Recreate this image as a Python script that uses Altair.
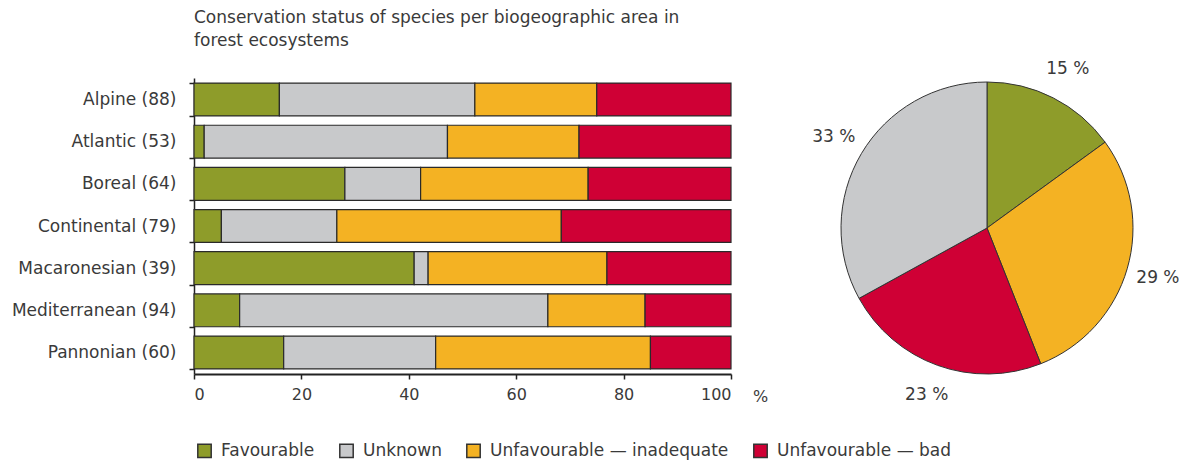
import altair as alt
import pandas as pd

areas = ["Alpine", "Atlantic", "Boreal", "Continental", "Macaronesian", "Mediterranean", "Pannonian"]
counts = [88, 53, 64, 79, 39, 94, 60]
statuses = ["Favourable", "Unknown", "Unfavourable — inadequate", "Unfavourable — bad"]
colors = ["#8e9c2a", "#c8c9cb", "#f4b223", "#cf0035"]

favourable = [15.9, 1.9, 28.1, 5.1, 41.0, 8.5, 16.7]
unknown = [36.4, 45.3, 14.1, 21.5, 2.6, 57.4, 28.3]
inadequate = [22.7, 24.5, 31.2, 41.8, 33.3, 18.1, 40.0]
bad = [25.0, 28.3, 26.6, 31.6, 23.1, 16.0, 15.0]

pie_status = ["Favourable", "Unfavourable — inadequate", "Unfavourable — bad", "Unknown"]
pie_values = [15, 29, 23, 33]

labels = [f"{a} ({c})" for a, c in zip(areas, counts)]
rows = []
for i, lab in enumerate(labels):
    for j, (s, series) in enumerate(zip(statuses, [favourable, unknown, inadequate, bad])):
        rows.append({"area": lab, "status": s, "pct": series[i], "ord": j})
bar_df = pd.DataFrame(rows)

pie_df = pd.DataFrame({
    "status": pie_status,
    "value": pie_values,
    "pord": list(range(len(pie_status))),
    "label": [f"{v} %" for v in pie_values],
})

FONT = "DejaVu Sans"
TXT = "#3a3a3a"

color = alt.Color(
    "status:N",
    scale=alt.Scale(domain=statuses, range=colors),
    legend=alt.Legend(
        title=None, orient="none", legendX=2, legendY=364, direction="horizontal",
        columns=4, symbolType="square", symbolSize=180, symbolStrokeColor="#333",
        symbolStrokeWidth=1.5, labelFont=FONT, labelFontSize=17, labelColor=TXT,
        labelOffset=8, columnPadding=21, labelLimit=400,
    ),
)

bars = alt.Chart(bar_df).mark_bar(stroke="#2a2a2a", strokeWidth=1.2).encode(
    x=alt.X("pct:Q", stack="zero",
            scale=alt.Scale(domain=[0, 100], nice=False),
            axis=alt.Axis(values=[0, 20, 40, 60, 80, 100], grid=False, title="%",
                          titleX=566, titleY=22, titleAngle=0, titleAlign="center",
                          titleBaseline="middle", titleFont=FONT, titleFontSize=16,
                          titleFontWeight="normal", titleColor=TXT,
                          labelFont=FONT, labelFontSize=16, labelColor=TXT,
                          tickSize=5, tickColor="#222", tickWidth=1.5,
                          domainColor="#222", domainWidth=2, labelPadding=7)),
    y=alt.Y("area:N", sort=labels,
            scale=alt.Scale(paddingInner=0.22, paddingOuter=0.12),
            axis=alt.Axis(title=None, labelFont=FONT, labelFontSize=17, labelColor=TXT,
                          tickSize=5, tickColor="#222", tickWidth=1.5, tickBand="extent",
                          domainColor="#222", domainWidth=1.5, labelPadding=13)),
    color=color,
    order=alt.Order("ord:Q"),
)

CX, CY = 793, 150

pie = alt.Chart(pie_df).mark_arc(outerRadius=146, stroke="#333", strokeWidth=1).encode(
    theta=alt.Theta("value:Q", stack=True),
    color=color,
    order=alt.Order("pord:Q"),
    x=alt.value(CX),
    y=alt.value(CY),
)

pie_text = alt.Chart(pie_df).mark_text(radius=178, font=FONT, fontSize=17, color=TXT).encode(
    theta=alt.Theta("value:Q", stack=True),
    order=alt.Order("pord:Q"),
    text="label:N",
    x=alt.value(CX),
    y=alt.value(CY),
)

chart = alt.layer(bars, pie, pie_text).properties(
    width=537,
    height=296,
    background="white",
    title=alt.TitleParams(
        ["Conservation status of species per biogeographic area in", "forest ecosystems"],
        anchor="start", frame="group", font=FONT, fontSize=17, fontWeight="normal",
        color=TXT, lineHeight=23, offset=10,
    ),
    autosize=alt.AutoSizeParams(type="none"),
    padding={"left": 186, "top": 70, "right": 448, "bottom": 88},
).configure_view(stroke=None)

chart.save("out.html", embed_options={"renderer": "svg", "actions": False})
